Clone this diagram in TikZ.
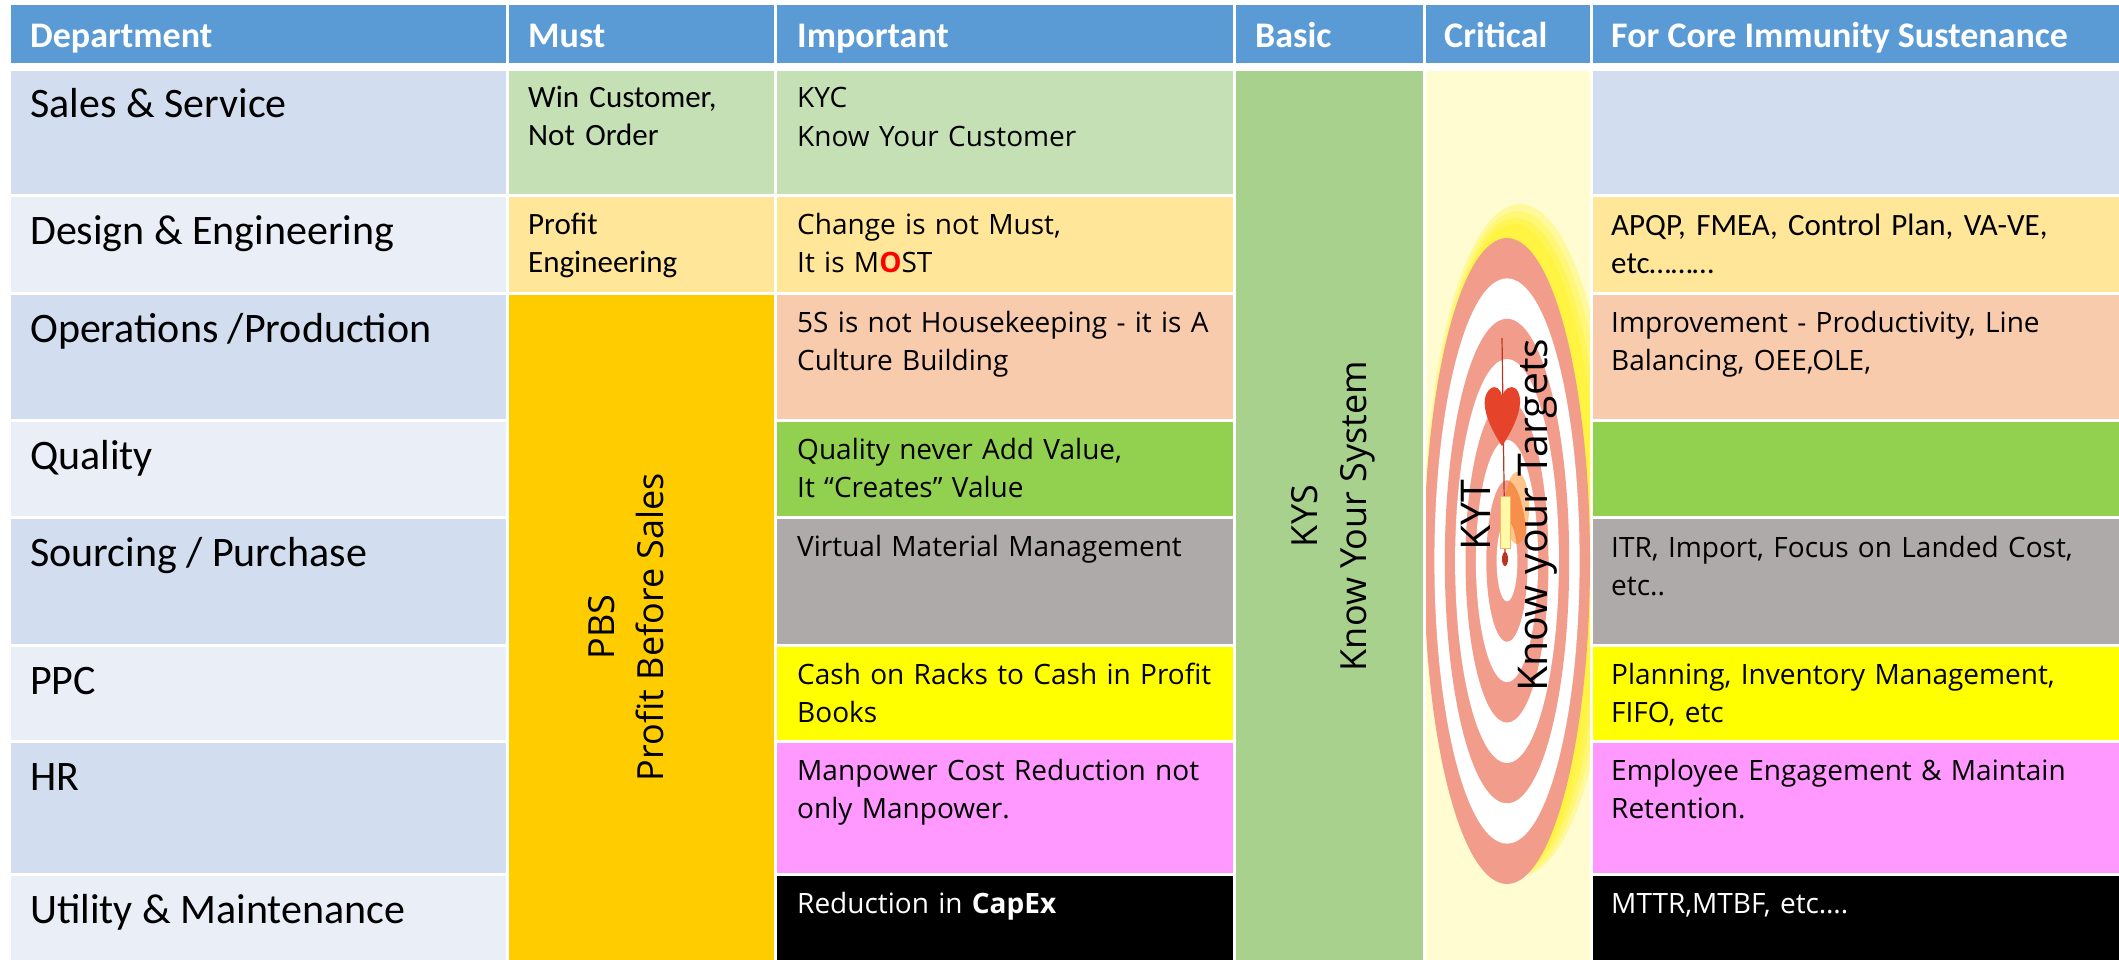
\documentclass[tikz,border=0pt]{standalone}
\usepackage{fontspec}
\setmainfont{Carlito}
\newfontfamily\segoe{Open Sans}
\usepackage{tikz}
\definecolor{headblue}{HTML}{5B9BD5}
\definecolor{rowdark}{HTML}{D2DEEF}
\definecolor{rowlight}{HTML}{EAEFF7}
\definecolor{mint}{HTML}{C5E0B4}
\definecolor{paleorange}{HTML}{FFE699}
\definecolor{gold}{HTML}{FFCC00}
\definecolor{peach}{HTML}{F8CBAD}
\definecolor{lime}{HTML}{92D050}
\definecolor{stone}{HTML}{AEAAAA}
\definecolor{lemon}{HTML}{FFFF00}
\definecolor{orchid}{HTML}{FF99FF}
\definecolor{basicgreen}{HTML}{A9D18E}
\definecolor{critbg}{HTML}{FFFCD2}
\definecolor{ring}{HTML}{F29C8B}
\definecolor{dartred}{HTML}{E5432A}

\begin{document}
\begin{tikzpicture}[x=1pt,y=-1pt,
    head/.style={anchor=base west,inner sep=0pt,text=white,font=\fontsize{36}{44}\selectfont\bfseries},
    dept/.style={anchor=base west,inner sep=0pt,font=\fontsize{42}{50}\selectfont},
    must/.style={anchor=base west,inner sep=0pt,text width=480pt,align=left,font=\fontsize{31}{38}\selectfont},
    imp/.style={anchor=base west,inner sep=0pt,text width=480pt,align=left,font=\segoe\fontsize{28}{38.5}\selectfont},
    vert/.style={rotate=90,align=center,inner sep=0pt,font=\segoe\fontsize{36}{49}\selectfont}]
            \useasboundingbox (0,0) rectangle (2119,960);
            \fill[white] (0,0) rectangle (2119,960);
            \fill[headblue] (11,5) rectangle (506,63);
            \fill[headblue] (509,5) rectangle (774,63);
            \fill[headblue] (777,5) rectangle (1233,63);
            \fill[headblue] (1236,5) rectangle (1423,63);
            \fill[headblue] (1426,5) rectangle (1590,63);
            \fill[headblue] (1593,5) rectangle (2119,63);
            \node[head] (hdept) at (30,48) {Department};
            \node[head] (hmust) at (528,48) {Must};
            \node[head] (himp) at (797,48) {Important};
            \node[head] (hbasic) at (1255,48) {Basic};
            \node[head] (hcrit) at (1444,48) {Critical};
            \node[head] (hcore) at (1611,48) {For Core Immunity Sustenance};

            \fill[rowdark] (11,71) rectangle (506,194);
            \fill[rowlight] (11,197) rectangle (506,292);
            \fill[rowdark] (11,295) rectangle (506,419);
            \fill[rowlight] (11,422) rectangle (506,516);
            \fill[rowdark] (11,519) rectangle (506,644);
            \fill[rowlight] (11,647) rectangle (506,740);
            \fill[rowdark] (11,743) rectangle (506,873);
            \fill[rowlight] (11,876) rectangle (506,960);
            \node[dept] (dsales) at (30,118) {Sales \& Service};
            \node[dept] (ddesign) at (30,244) {Design \& Engineering};
            \node[dept] (dops) at (30,342) {Operations /Production};
            \node[dept] (dqual) at (30,469) {Quality};
            \node[dept] (dsrc) at (30,566) {Sourcing / Purchase};
            \node[dept] (dppc) at (30,694) {PPC};
            \node[dept] (dhr) at (30,790) {HR};
            \node[dept] (dutil) at (30,923) {Utility \& Maintenance};

            \fill[mint] (509,71) rectangle (774,194);
            \fill[paleorange] (509,197) rectangle (774,292);
            \fill[gold] (509,295) rectangle (774,960);
            \node[must] (msales) at (528,108) {Win Customer,\\Not Order};
            \node[must] (mdesign) at (528,234) {Profit\\Engineering};
            \node[vert] (pbs) at (626,627) {PBS\\Profit Before Sales};

            \fill[mint] (777,71) rectangle (1233,194);
            \fill[paleorange] (777,197) rectangle (1233,292);
            \fill[peach] (777,295) rectangle (1233,419);
            \fill[lime] (777,422) rectangle (1233,516);
            \fill[stone] (777,519) rectangle (1233,644);
            \fill[lemon] (777,647) rectangle (1233,740);
            \fill[orchid] (777,743) rectangle (1233,873);
            \fill[black] (777,876) rectangle (1233,960);
            \node[imp] (isales) at (797,108) {KYC\\Know Your Customer};
            \node[imp] (idesign) at (797,234) {Change is not Must,\\It is M\textcolor{red}{\textbf{O}}ST};
            \node[imp] (iops) at (797,332) {5S is not Housekeeping - it is A\\Culture Building};
            \node[imp] (iqual) at (797,459) {Quality never Add Value,\\It “Creates” Value};
            \node[imp] (isrc) at (797,556) {Virtual Material Management};
            \node[imp] (ippc) at (797,684) {Cash on Racks to Cash in Profit\\Books};
            \node[imp] (ihr) at (797,780) {Manpower Cost Reduction not\\only Manpower.};
            \node[imp,text=white] (iutil) at (797,913) {Reduction in \textbf{CapEx}};

            \fill[basicgreen] (1236,71) rectangle (1423,960);
            \node[vert] (kys) at (1333,516) {KYS\\Know Your System};

            \begin{scope}
                \clip (1426,71) rectangle (1590,960);
                \fill[critbg] (1426,71) rectangle (1590,960);
                \fill[yellow,opacity=0.25] (1520,540) ellipse [x radius=96, y radius=336];
                \fill[yellow,opacity=0.25] (1518,543) ellipse [x radius=92, y radius=332];
                \fill[yellow,opacity=0.25] (1516,546) ellipse [x radius=88, y radius=328];
                \fill[yellow,opacity=0.25] (1514,549) ellipse [x radius=85, y radius=325];
                \fill[ring] (1507,561) ellipse [x radius=83, y radius=323];
                \fill[white] (1507,561) ellipse [x radius=72.6, y radius=282.6];
                \fill[ring] (1507,561) ellipse [x radius=62.2, y radius=242.2];
                \fill[white] (1507,561) ellipse [x radius=51.9, y radius=201.9];
                \fill[ring] (1507,561) ellipse [x radius=41.5, y radius=161.5];
                \fill[white] (1507,561) ellipse [x radius=31.1, y radius=121.1];
                \fill[ring] (1507,561) ellipse [x radius=20.7, y radius=80.7];
                \fill[white] (1507,561) ellipse [x radius=10.4, y radius=40.4];
                \fill[orange,opacity=0.45] (1517,508) ellipse [x radius=12, y radius=36];
                \draw[dartred!80!black,line width=1.2] (1502,338) -- (1505,556);
                \fill[dartred] (1502,446) .. controls (1488,425) and (1478,400) .. (1490,389) .. controls (1496,384) and (1501,390) .. (1502,396) .. controls (1504,390) and (1510,384) .. (1516,389) .. controls (1526,400) and (1516,425) .. (1502,446) -- cycle;
                \fill[yellow!35!white,draw=orange!60,line width=0.6] (1500,496) rectangle (1510,548);
                \fill[dartred!80!black] (1505,559) ellipse [x radius=3, y radius=7];
            \end{scope}
            \node[vert,font=\segoe\fontsize{41}{57}\selectfont] (kyt) at (1509,515) {KYT\\Know your Targets};

            \fill[rowdark] (1593,71) rectangle (2119,194);
            \fill[paleorange] (1593,197) rectangle (2119,292);
            \fill[peach] (1593,295) rectangle (2119,419);
            \fill[lime] (1593,422) rectangle (2119,516);
            \fill[stone] (1593,519) rectangle (2119,644);
            \fill[lemon] (1593,647) rectangle (2119,740);
            \fill[orchid] (1593,743) rectangle (2119,873);
            \fill[black] (1593,876) rectangle (2119,960);
            \node[must] (cdesign) at (1611,235) {APQP, FMEA, Control Plan, VA-VE,\\etc………};
            \node[imp] (cops) at (1611,332) {Improvement - Productivity, Line\\Balancing, OEE,OLE,};
            \node[imp] (csrc) at (1611,557) {ITR, Import, Focus on Landed Cost,\\etc..};
            \node[imp] (cppc) at (1611,684) {Planning, Inventory Management,\\FIFO, etc};
            \node[imp] (chr) at (1611,780) {Employee Engagement \& Maintain\\Retention.};
            \node[imp,text=white] (cutil) at (1611,913) {MTTR,MTBF, etc….};
        \end{tikzpicture}
\end{document}
